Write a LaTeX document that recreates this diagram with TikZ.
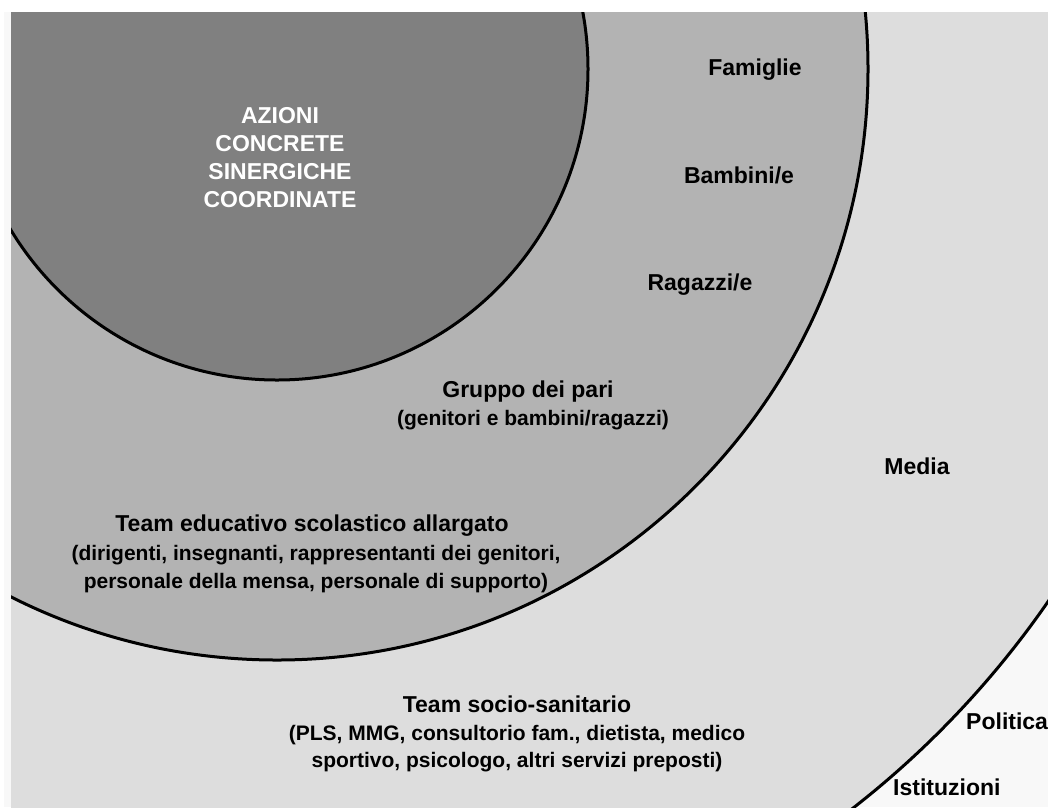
\documentclass[tikz,border=0pt]{standalone}
\usepackage{fontspec}
\setmainfont{Liberation Sans}
\definecolor{bgc}{HTML}{F8F8F8}
\definecolor{outerc}{HTML}{DDDDDD}
\definecolor{midc}{HTML}{B3B3B3}
\definecolor{innerc}{HTML}{808080}
\tikzset{
  ring/.style={draw=black, line width=3pt},
  big/.style={font=\fontsize{23}{28}\selectfont\bfseries, inner sep=0pt, anchor=base},
  small/.style={font=\fontsize{21}{28}\selectfont\bfseries, inner sep=0pt, anchor=base},
}
\begin{document}
\begin{tikzpicture}[x=1pt,y=-1pt]
\useasboundingbox (0,0) rectangle (1048,807);
\fill[white] (0,0) rectangle (1048,807);
\fill[bgc] (4,12) rectangle (1048,807);
\begin{scope}
  \clip (11,12) rectangle (1048,807);
  \coordinate (c) at (277,69);
  \filldraw[ring, fill=outerc] (c) circle[radius=937];
  \filldraw[ring, fill=midc] (c) circle[radius=591];
  \filldraw[ring, fill=innerc] (c) circle[radius=311];
\end{scope}
% inner circle text
\node[big, text=white] (a1) at (280,123) {AZIONI};
\node[big, text=white] (a2) at (280,151) {CONCRETE};
\node[big, text=white] (a3) at (280,179) {SINERGICHE};
\node[big, text=white] (a4) at (280,207) {COORDINATE};
% middle ring
\node[big] (fam) at (755,75) {Famiglie};
\node[big] (bam) at (739,183) {Bambini/e};
\node[big] (rag) at (700,290) {Ragazzi/e};
\node[big] (gru) at (528,397) {Gruppo dei pari};
\node[small] (grus) at (533,425) {(genitori e bambini/ragazzi)};
\node[big] (tes) at (312,531) {Team educativo scolastico allargato};
\node[small] (tes1) at (316,560) {(dirigenti, insegnanti, rappresentanti dei genitori,};
\node[small] (tes2) at (316,588) {personale della mensa, personale di supporto)};
% outer ring
\node[big] (med) at (917,474) {Media};
\node[big] (tss) at (517,712) {Team socio-sanitario};
\node[small] (tss1) at (517,740) {(PLS, MMG, consultorio fam., dietista, medico};
\node[small] (tss2) at (517,767) {sportivo, psicologo, altri servizi preposti)};
% outside
\node[big, anchor=base west] (pol) at (966,729) {Politica};
\node[big, anchor=base west] (ist) at (893,795) {Istituzioni};
\end{tikzpicture}
\end{document}
